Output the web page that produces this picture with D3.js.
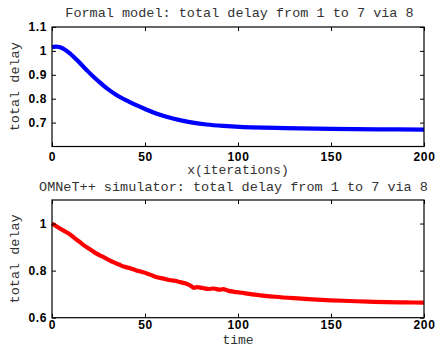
<!DOCTYPE html>
<html><head><meta charset="utf-8">
<script src="https://cdn.jsdelivr.net/npm/d3@7"></script>
<style>body{margin:0;background:#fff}svg{display:block}</style>
</head><body>
<script>
const modelX = [0,2,4,7,10,13,16,19,22,25,28,31,34,37,40,45,50,56,65,74,83,92,101,125,150,175,200];
const modelY = [1.015,1.018,1.016,1.005,0.987,0.965,0.941,0.917,0.894,0.873,0.853,0.835,0.819,0.805,0.793,0.774,0.757,0.738,0.717,0.702,0.692,0.686,0.682,0.677,0.674,0.672,0.671];
const simX = [0,3,6,9,12,15,18,21,24,27,30,33,36,39,42,45,48,51,54,57,60,63,66,69,72,75,76,78,81,84,87,90,92,95,98,101,110,120,130,140,150,160,170,180,190,200];
const simY = [1.0,0.985,0.971,0.958,0.939,0.921,0.903,0.888,0.872,0.860,0.848,0.836,0.826,0.816,0.810,0.802,0.795,0.788,0.779,0.771,0.766,0.760,0.757,0.751,0.745,0.734,0.727,0.730,0.726,0.722,0.724,0.719,0.721,0.714,0.710,0.707,0.697,0.689,0.683,0.678,0.674,0.671,0.668,0.666,0.665,0.664];
const xTicks = [0,50,100,150,200];
const yTicksTop = [0.7,0.8,0.9,1,1.1];
const yTicksBottom = [0.6,0.8,1];

const W = 437, H = 347;
const svg = d3.select("body").append("svg").attr("width", W).attr("height", H);
const mono = "'Liberation Mono', 'DejaVu Sans Mono', monospace";
const sans = "'Liberation Sans', Arial, sans-serif";

function panel(cfg) {
  const x = d3.scaleLinear().domain([0,200]).range([52,424]);
  const y = d3.scaleLinear().domain([0.6,1.1]).range([cfg.bottom, cfg.top]);
  const g = svg.append("g");
  const line = d3.line().x((d,i)=>x(cfg.xs[i])).y(d=>y(d)).curve(d3.curveCatmullRom.alpha(0.5));
  g.append("path").datum(cfg.ys).attr("d", line).attr("fill","none")
    .attr("stroke", cfg.color).attr("stroke-width", 4.2).attr("stroke-linejoin","round").attr("stroke-linecap","butt");
  g.append("rect").attr("x",52).attr("y",cfg.top).attr("width",372).attr("height",cfg.bottom-cfg.top)
    .attr("fill","none").attr("stroke","#000").attr("stroke-width",1.2);
  const fmt = d => d3.format("~g")(d);
  const ax = (axis, tr) => {
    const a = g.append("g").attr("transform", tr).call(axis);
    a.select(".domain").remove();
    a.selectAll(".tick line").attr("stroke","#000");
    a.selectAll(".tick text").attr("font-family", sans).attr("font-weight","bold").attr("font-size","12px")
      .attr("letter-spacing","0.6px").attr("fill","#000");
    return a;
  };
  ax(d3.axisBottom(x).tickValues(xTicks).tickSize(-4).tickPadding(cfg.xpad).tickFormat(fmt), `translate(0,${cfg.bottom})`);
  ax(d3.axisTop(x).tickValues(xTicks).tickSize(-4).tickFormat(""), `translate(0,${cfg.top})`);
  ax(d3.axisLeft(y).tickValues(cfg.yt).tickSize(-4).tickPadding(5).tickFormat(fmt), `translate(52,0)`);
  ax(d3.axisRight(y).tickValues(cfg.yt).tickSize(-4).tickFormat(""), `translate(424,0)`);
  g.append("text").attr("x", cfg.titleX).attr("y", cfg.titleY).attr("text-anchor","middle")
    .attr("font-family", mono).attr("font-size","13.5px").attr("fill","#333").text(cfg.title);
  g.append("text").attr("x", 238).attr("y", cfg.xlabelY).attr("text-anchor","middle")
    .attr("font-family", mono).attr("font-size","13px").attr("fill","#333").text(cfg.xlabel);
  g.append("text").attr("transform", `translate(19,${(cfg.top+cfg.bottom)/2}) rotate(-90)`).attr("text-anchor","middle")
    .attr("font-family", mono).attr("font-size","13.5px").attr("fill","#333").text("total delay");
}

panel({top:27, bottom:146.5, xs:modelX, ys:modelY, color:"#0000ff", yt:yTicksTop, xpad:6,
  title:"Formal model: total delay from 1 to 7 via 8", titleX:239.5, titleY:17, xlabel:"x(iterations)", xlabelY:174});
panel({top:200, bottom:317.7, xs:simX, ys:simY, color:"#ff0000", yt:yTicksBottom, xpad:3.2,
  title:"OMNeT++ simulator: total delay from 1 to 7 via 8", titleX:233.5, titleY:191, xlabel:"time", xlabelY:343.5});
</script>
</body></html>
